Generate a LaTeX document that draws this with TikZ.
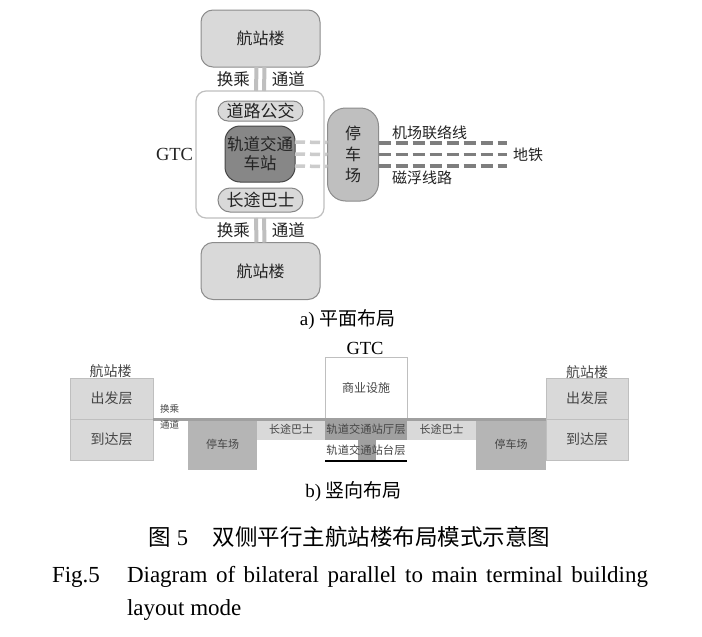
\documentclass[tikz,border=0pt]{standalone}
\usepackage{fontspec}
\setmainfont{Liberation Serif}
\newfontfamily\cjk{Noto Sans CJK SC}
\usetikzlibrary{positioning,calc,shapes.misc}
\definecolor{hubline}{RGB}{140,140,140}
\definecolor{hublight}{RGB}{217,217,217}
\definecolor{hubmid}{RGB}{191,191,191}
\definecolor{hubdark}{RGB}{135,135,135}
\definecolor{hubhall}{RGB}{160,160,160}
\definecolor{hubtext}{RGB}{35,35,35}
\definecolor{hubsoft}{RGB}{70,70,70}

\begin{document}
\begin{tikzpicture}[
  x=1pt, y=-1pt,
  font=\cjk\fontsize{16}{19}\selectfont, text=hubtext,
  every node/.style={outer sep=0pt},
  terminal/.style={draw=hubline, fill=hublight, line width=1pt, rounded corners=12pt,
    minimum width=119pt, minimum height=57pt},
  gtcframe/.style={draw=hubmid, fill=white, line width=1.2pt, rounded corners=10pt,
    minimum width=128pt, minimum height=127pt},
  pill/.style={rounded rectangle, draw=hubdark, fill=hublight, line width=1pt,
    minimum width=87pt, inner sep=1pt, font=\cjk\fontsize{17}{19}\selectfont},
  station/.style={draw=hubsoft, fill=hubdark, line width=1pt, rounded corners=15pt,
    minimum width=70pt, minimum height=56pt, align=center, inner sep=1pt,
    font=\cjk\fontsize{16.5}{19}\selectfont},
  parking/.style={draw=hubline, fill=hubmid, line width=1pt, rounded corners=18pt,
    minimum width=51pt, minimum height=93pt, align=center, font=\cjk\fontsize{16}{21}\selectfont},
  channel/.style={draw=hubmid, line width=4pt},
  chanlabel/.style={inner sep=1pt, font=\cjk\fontsize{16.5}{18}\selectfont},
  raildash/.style={draw=hubmid!80, line width=3.5pt, dash pattern=on 10pt off 5pt},
  metrodash/.style={draw=hubline!90!black, line width=3.5pt, dash pattern=on 12pt off 5pt},
  linelabel/.style={inner sep=1pt, font=\cjk\fontsize{15}{17}\selectfont},
  subcap/.style={font=\cjk\fontsize{19}{21}\selectfont, text=black},
  floor/.style={draw=hubmid, fill=hublight, line width=0.8pt, minimum width=83pt,
    minimum height=41pt, text=hubsoft, font=\cjk\fontsize{14}{16}\selectfont},
  parkbox/.style={fill=hubmid!95!black, minimum height=51pt, text=hubsoft,
    font=\cjk\fontsize{11}{13}\selectfont},
  coachbox/.style={fill=hublight, minimum height=21pt, text=hubsoft, inner sep=0pt,
    font=\cjk\fontsize{11}{13}\selectfont},
  hallbox/.style={fill=hubhall, minimum width=82pt, minimum height=21pt, inner sep=0pt,
    text=hubsoft, font=\cjk\fontsize{11.3}{13}\selectfont},
  smalllabel/.style={inner sep=0pt, text=hubsoft, font=\cjk\fontsize{9.5}{11}\selectfont},
  levelline/.style={draw=hubhall, line width=3pt}
]
\useasboundingbox (0,0) rectangle (702,637);

% plan layout
\node[terminal] (termtop) at (260.5,38.5) {航站楼};
\node[gtcframe] (gtc) at (260,154.5) {};
\node[pill, minimum height=20pt] (roadbus) at (260.5,111) {道路公交};
\node[station] (rail) at (260,154) {轨道交通\\车站};
\node[pill, minimum height=24pt] (coach) at (260.5,200) {长途巴士};
\node[terminal] (termbot) at (260.5,271) {航站楼};
\node[parking] (park) at (353,154.5) {停\\车\\场};
\node[font=\rmfamily\fontsize{18.5}{20}\selectfont, left=3pt of gtc, inner sep=0pt] (gtclabel) {GTC};

\foreach \dx in {-4,4} {
  \draw[channel] ([xshift=\dx pt]termtop.south) -- ([xshift=\dx pt]gtc.north);
  \draw[channel] ([xshift=\dx pt]gtc.south) -- ([xshift=\dx pt]termbot.north);
}
\coordinate (chtop) at ($(termtop.south)!0.5!(gtc.north)$);
\coordinate (chbot) at ($(gtc.south)!0.5!(termbot.north)$);
\node[chanlabel, left=9.5pt of chtop] (xfertop) {换乘};
\node[chanlabel, right=10.5pt of chtop] (passtop) {通道};
\node[chanlabel, left=9.5pt of chbot] (xferbot) {换乘};
\node[chanlabel, right=10.5pt of chbot] (passbot) {通道};

\coordinate (metroend) at (507,154.5);
\foreach \dy in {-12,0,12}
  \draw[raildash] ([yshift=\dy pt]rail.east) -- ([yshift=\dy pt]park.west);
\foreach \dy in {-11.5,0,11.5}
  \draw[metrodash] ([yshift=\dy pt]park.east) -- ([yshift=\dy pt]metroend);
\node[linelabel, anchor=west] (airlink) at (391,133) {机场联络线};
\node[linelabel, anchor=west] (maglev) at (391,178) {磁浮线路};
\node[linelabel, right=5pt of metroend] (metro) {地铁};

\node[subcap] (capa) at (347.5,320) {{\rmfamily a)} 平面布局};

% vertical layout
\node[floor] (depL) at (111.5,398.5) {出发层};
\node[floor, below=0pt of depL] (arrL) {到达层};
\node[text=hubsoft, font=\cjk\fontsize{14}{16}\selectfont] (termL) at (110.5,371) {航站楼};
\node[parkbox, minimum width=69pt, anchor=north west] (parkL) at (188,419) {停车场};
\node[coachbox, minimum width=68pt, anchor=north west] (coachL) at (parkL.north east) {长途巴士};
\node[hallbox, anchor=north west] (hall) at (coachL.north east) {轨道交通站厅层};
\node[hallbox, fill=white, below=0pt of hall,
  path picture={\fill[hubhall] ([xshift=-8pt]path picture bounding box.south)
    rectangle ([xshift=10pt]path picture bounding box.north);}] (platform) {轨道交通站台层};
\node[hallbox, fill=white, draw=hubmid, line width=0.8pt, minimum height=62pt,
  font=\cjk\fontsize{12}{14}\selectfont, above=0pt of hall] (commerce) {商业设施};
\node[coachbox, minimum width=69pt, anchor=north west] (coachR) at (hall.north east) {长途巴士};
\node[parkbox, minimum width=70pt, anchor=north west] (parkR) at (coachR.north east) {停车场};
\node[floor, minimum width=82pt, anchor=north west] (arrR) at (parkR.north east) {到达层};
\node[floor, minimum width=82pt, above=0pt of arrR] (depR) {出发层};
\node[text=hubsoft, font=\cjk\fontsize{14}{16}\selectfont] (termR) at (587,372) {航站楼};

\draw[levelline] (arrL.north east) -- (arrR.north west);
\draw[line width=2.5pt] (platform.south west) -- (platform.south east);
\node[smalllabel] (xferv) at (169.5,409) {换乘};
\node[smalllabel] (passv) at (169.5,425) {通道};
\node[font=\rmfamily\fontsize{18.5}{20}\selectfont, text=black] (gtcv) at (365,348) {GTC};

\node[subcap] (capb) at (353.5,492) {{\rmfamily b)} 竖向布局};

% captions
\node[font=\rmfamily\fontsize{22.5}{26}\selectfont, text=black] (figcn) at (349.5,537)
  {{\cjk 图}~5\hspace{1.1em}{\cjk 双侧平行主航站楼布局模式示意图}};
\node[font=\rmfamily\fontsize{23}{33}\selectfont, text=black, anchor=base west, inner sep=0pt]
  (figno) at (52,582) {Fig.5};
\node[font=\rmfamily\fontsize{23}{33}\selectfont, text=black, anchor=base west, inner sep=0pt,
  text width=521pt, align=justify] (figen) at (127,582)
  {Diagram of bilateral parallel to main terminal building layout mode};
\end{tikzpicture}
\end{document}
